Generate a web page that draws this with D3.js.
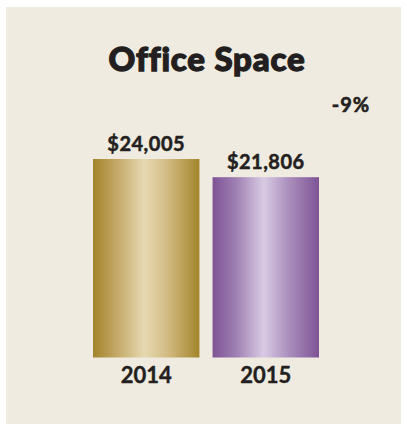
<!DOCTYPE html>
<html>
<head>
<meta charset="utf-8">
<script src="https://cdn.jsdelivr.net/npm/d3@7"></script>
<style>
  html, body { margin: 0; padding: 0; background: #ffffff; }
  svg { display: block; }
  text { font-family: Lato, "Open Sans", sans-serif; fill: #231f20; }
</style>
</head>
<body>
<script>
// Annual office space cost
const years = ["2014", "2015"];
const costs = [24005, 21806];
const valueLabels = ["$24,005", "$21,806"];
const changeLabel = "-9%";
const title = "Office Space";

// Bar gradients: dark edges, pale centre
const gradientStops = {
  "2014": ["#a3842a", "#c3a766", "#e6d9b1", "#d2bb83", "#a3852a"],
  "2015": ["#7e5396", "#9f80b3", "#d9cbe4", "#ad92bf", "#7e5396"]
};
const stopOffsets = [0, 0.22, 0.48, 0.7, 1];

const W = 407, H = 425;
const svg = d3.select("body").append("svg")
  .attr("width", W).attr("height", H);

// Panel
svg.append("rect")
  .attr("x", 6).attr("y", 7)
  .attr("width", 395).attr("height", 417)
  .attr("fill", "#f0ebe1");

const defs = svg.append("defs");
years.forEach(y => {
  const g = defs.append("linearGradient")
    .attr("id", "grad" + y)
    .attr("x1", "0%").attr("x2", "100%")
    .attr("y1", "0%").attr("y2", "0%");
  gradientStops[y].forEach((c, i) => {
    g.append("stop").attr("offset", stopOffsets[i]).attr("stop-color", c);
  });
});

const x = d3.scaleBand()
  .domain(years)
  .range([93, 319])
  .paddingInner(0.11)
  .paddingOuter(0);

const y = d3.scaleLinear()
  .domain([0, 24005])
  .range([357.5, 159]);

const data = years.map((yr, i) => ({ year: yr, cost: costs[i], label: valueLabels[i] }));

svg.selectAll("rect.bar")
  .data(data)
  .join("rect")
  .attr("class", "bar")
  .attr("x", d => x(d.year))
  .attr("y", d => y(d.cost))
  .attr("width", x.bandwidth())
  .attr("height", d => y(0) - y(d.cost))
  .attr("fill", d => `url(#grad${d.year})`);

// Value labels above bars
svg.selectAll("text.value")
  .data(data)
  .join("text")
  .attr("class", "value")
  .attr("x", d => x(d.year) + x.bandwidth() / 2)
  .attr("y", d => y(d.cost) - 8)
  .attr("text-anchor", "middle")
  .attr("font-size", 20)
  .attr("font-weight", 700)
  .attr("letter-spacing", 0.5)
  .attr("stroke", "#231f20")
  .attr("stroke-width", 0.5)
  .text(d => d.label);

// Category axis (labels only)
const xAxis = svg.append("g")
  .attr("transform", `translate(0,${y(0)})`)
  .call(d3.axisBottom(x).tickSize(0).tickPadding(10));
xAxis.select(".domain").remove();
xAxis.selectAll("text")
  .attr("font-family", "Lato, sans-serif")
  .attr("font-size", 22)
  .attr("font-weight", 700)
  .attr("fill", "#231f20")
  .attr("stroke", "#231f20")
  .attr("stroke-width", 0.4)
  .attr("dy", "0.71em");

// Title
svg.append("text")
  .attr("x", 207).attr("y", 71)
  .attr("text-anchor", "middle")
  .attr("font-size", 33)
  .attr("font-weight", 900)
  .attr("letter-spacing", 0.8)
  .attr("stroke", "#231f20")
  .attr("stroke-width", 1.3)
  .text(title);

// Change indicator
svg.append("text")
  .attr("x", 351).attr("y", 112)
  .attr("text-anchor", "middle")
  .attr("font-size", 20)
  .attr("font-weight", 700)
  .attr("letter-spacing", 1)
  .attr("stroke", "#231f20")
  .attr("stroke-width", 0.6)
  .text(changeLabel);
</script>
</body>
</html>
